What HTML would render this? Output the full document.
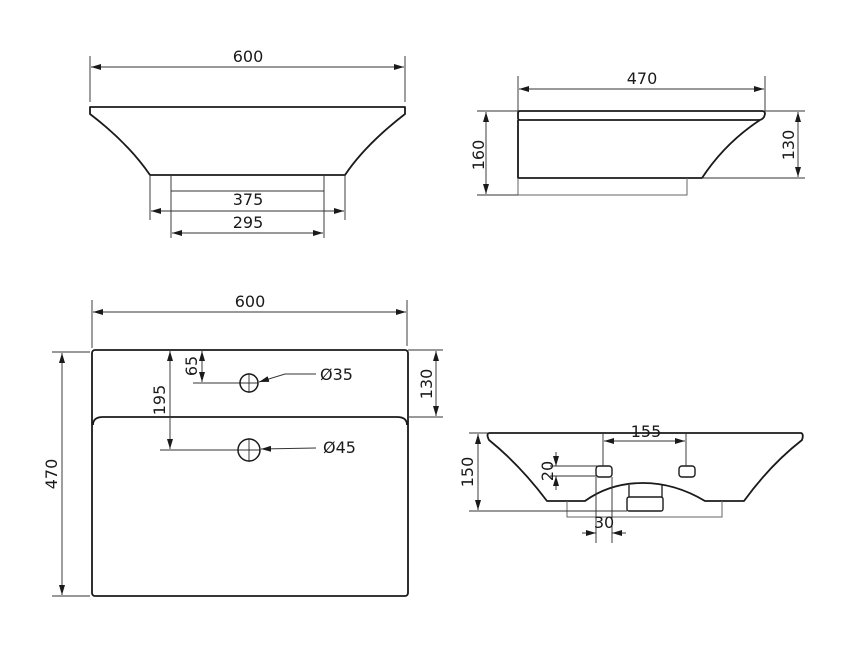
<!DOCTYPE html>
<html><head><meta charset="utf-8"><style>
html,body{margin:0;padding:0;background:#fff;}
svg{display:block;}
text{font-family:"DejaVu Sans","Liberation Sans",sans-serif;font-size:16px;fill:#1a1a1a;}
.t{fill:none;stroke:#1a1a1a;stroke-width:1.8;stroke-linejoin:round;}
.d{fill:none;stroke:#333;stroke-width:0.95;}
.g{fill:none;stroke:#666;stroke-width:1;}
</style></head><body>
<svg width="850" height="650" viewBox="0 0 850 650">
<defs>
<marker id="a" viewBox="0 0 10 6" refX="10" refY="3" markerWidth="10" markerHeight="6" orient="auto-start-reverse" markerUnits="userSpaceOnUse"><path d="M0,0L10,3L0,6z" fill="#1a1a1a"/></marker>
</defs>

<!-- Top-left view -->
<line class="d" x1="90" y1="56" x2="90" y2="102"/><line class="d" x1="405" y1="56" x2="405" y2="102"/>
<line class="d" x1="91" y1="67" x2="404" y2="67" marker-start="url(#a)" marker-end="url(#a)"/>
<text x="248" y="62" text-anchor="middle">600</text>
<path class="t" d="M90,107 L405,107 L405,114 Q365,145 345,175 L150,175 Q128,143 90,114 Z"/>
<line class="d" x1="150" y1="175" x2="150" y2="220"/><line class="d" x1="345" y1="175" x2="345" y2="220"/>
<line class="d" x1="171" y1="175" x2="171" y2="238"/><line class="d" x1="324" y1="175" x2="324" y2="238"/>
<line class="d" x1="171" y1="191" x2="324" y2="191"/>
<line class="d" x1="151" y1="211" x2="344" y2="211" marker-start="url(#a)" marker-end="url(#a)"/>
<text x="248" y="205" text-anchor="middle">375</text>
<line class="d" x1="172" y1="233" x2="323" y2="233" marker-start="url(#a)" marker-end="url(#a)"/>
<text x="248" y="228" text-anchor="middle">295</text>

<!-- Top-right view -->
<line class="d" x1="518" y1="76" x2="518" y2="111"/><line class="d" x1="765" y1="76" x2="765" y2="111"/>
<line class="d" x1="519" y1="89" x2="764" y2="89" marker-start="url(#a)" marker-end="url(#a)"/>
<text x="642" y="84" text-anchor="middle">470</text>
<path class="t" d="M520,111 L762,111 Q765,111 765,114 L764,117 Q762,120 759,120 L520,120 Q518,120 518,118 L518,113 Q518,111 520,111 Z"/>
<path class="t" d="M518,120 L518,178 L702,178 Q725,143 760,120"/>
<path class="g" d="M518,178 L518,195 L687,195 L687,178"/>
<line class="d" x1="477" y1="111" x2="518" y2="111"/><line class="d" x1="477" y1="195" x2="518" y2="195"/>
<line class="d" x1="486" y1="112" x2="486" y2="194" marker-start="url(#a)" marker-end="url(#a)"/>
<text transform="translate(484,155) rotate(-90)" text-anchor="middle">160</text>
<line class="d" x1="765" y1="111" x2="805" y2="111"/><line class="d" x1="702" y1="178" x2="805" y2="178"/>
<line class="d" x1="798" y1="112" x2="798" y2="177" marker-start="url(#a)" marker-end="url(#a)"/>
<text transform="translate(794,145) rotate(-90)" text-anchor="middle">130</text>

<!-- Bottom-left plan -->
<line class="d" x1="92" y1="300" x2="92" y2="348"/><line class="d" x1="407" y1="300" x2="407" y2="346"/>
<line class="d" x1="93" y1="312" x2="406" y2="312" marker-start="url(#a)" marker-end="url(#a)"/>
<text x="250" y="307" text-anchor="middle">600</text>
<rect class="t" x="92" y="350" width="316" height="246" rx="3"/>
<path class="t" d="M93,425 Q93,417 103,417 L397,417 Q407,417 407,425"/>
<line class="d" x1="52" y1="352" x2="90" y2="352"/><line class="d" x1="52" y1="596" x2="90" y2="596"/>
<line class="d" x1="62" y1="353" x2="62" y2="595" marker-start="url(#a)" marker-end="url(#a)"/>
<text transform="translate(57,474) rotate(-90)" text-anchor="middle">470</text>
<line class="d" x1="408" y1="350" x2="443" y2="350"/><line class="d" x1="408" y1="417" x2="443" y2="417"/>
<line class="d" x1="436" y1="351" x2="436" y2="416" marker-start="url(#a)" marker-end="url(#a)"/>
<text transform="translate(432,384) rotate(-90)" text-anchor="middle">130</text>
<line class="d" x1="170" y1="351" x2="170" y2="449" marker-start="url(#a)" marker-end="url(#a)"/>
<line class="d" x1="160" y1="450" x2="260" y2="450"/>
<text transform="translate(165,400) rotate(-90)" text-anchor="middle">195</text>
<line class="d" x1="202" y1="351" x2="202" y2="382" marker-start="url(#a)" marker-end="url(#a)"/>
<line class="d" x1="193" y1="383" x2="258" y2="383"/>
<text transform="translate(197,366) rotate(-90)" text-anchor="middle">65</text>
<circle class="t" cx="249" cy="383" r="9" style="stroke-width:1.5"/>
<line class="d" x1="249" y1="373" x2="249" y2="393"/>
<circle class="t" cx="249" cy="450" r="11" style="stroke-width:1.5"/>
<line class="d" x1="249" y1="438" x2="249" y2="462"/>
<path class="d" d="M316,374 L285,374 L259,382" marker-end="url(#a)"/>
<text x="320" y="380">Ø35</text>
<path class="d" d="M316,448 L261,449" marker-end="url(#a)"/>
<text x="323" y="453">Ø45</text>

<!-- Bottom-right front view -->
<path class="t" d="M489,433 L801,433 Q804,434 802,440 Q770,465 744,501 L705,501 Q675,483 643,483 Q610,483 585,501 L547,501 Q520,465 489,440 Q486,434 489,433 Z"/>
<rect class="t" x="596" y="466" width="16" height="11" rx="3" style="stroke-width:1.4"/>
<rect class="t" x="679" y="466" width="16" height="11" rx="3" style="stroke-width:1.4"/>
<path class="t" d="M629,485 L629,497 M662,485 L662,497" style="stroke-width:1.3"/>
<rect class="t" x="627" y="497" width="36" height="14" rx="2" style="stroke-width:1.4"/>
<path class="g" d="M567,501 L567,517 L722,517 L722,501"/>
<line class="d" x1="469" y1="433" x2="489" y2="433"/><line class="d" x1="469" y1="511" x2="627" y2="511"/>
<line class="d" x1="478" y1="434" x2="478" y2="510" marker-start="url(#a)" marker-end="url(#a)"/>
<text transform="translate(473,472) rotate(-90)" text-anchor="middle">150</text>
<line class="d" x1="603" y1="433" x2="603" y2="466"/><line class="d" x1="686" y1="433" x2="686" y2="466"/>
<line class="d" x1="604" y1="441" x2="685" y2="441" marker-start="url(#a)" marker-end="url(#a)"/>
<text x="646" y="437" text-anchor="middle">155</text>
<line class="d" x1="550" y1="466" x2="598" y2="466"/><line class="d" x1="550" y1="476" x2="598" y2="476"/>
<line class="d" x1="556" y1="452" x2="556" y2="466" marker-end="url(#a)"/>
<line class="d" x1="556" y1="490" x2="556" y2="476" marker-end="url(#a)"/>
<text transform="translate(553,471) rotate(-90)" text-anchor="middle">20</text>
<line class="d" x1="596" y1="477" x2="596" y2="543"/><line class="d" x1="612" y1="477" x2="612" y2="543"/>
<line class="d" x1="582" y1="533" x2="596" y2="533" marker-end="url(#a)"/>
<line class="d" x1="626" y1="533" x2="612" y2="533" marker-end="url(#a)"/>
<text x="604" y="528" text-anchor="middle">30</text>
</svg>
</body></html>
